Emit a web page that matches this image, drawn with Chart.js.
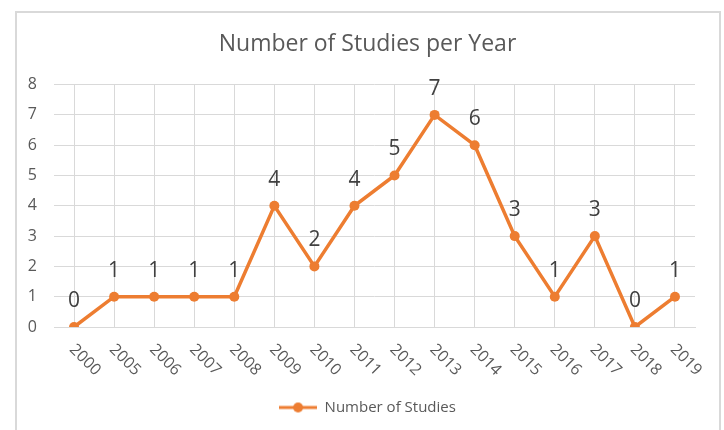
<!DOCTYPE html>
<html><head><meta charset="utf-8">
<script src="https://cdn.jsdelivr.net/npm/chart.js@4/dist/chart.umd.min.js"></script>
<style>
html,body{margin:0;padding:0;background:#fff;overflow:hidden}
#frame{position:absolute;left:15px;top:11px;width:706px;height:440px;border:2px solid #d9d9d9;box-sizing:border-box}
#wrap{position:absolute;left:0;top:0;width:724px;height:430px}
</style></head><body>
<div id="frame"></div>
<div id="wrap"><canvas id="c" width="724" height="430"></canvas></div>
<script>
const years = ['2000','2005','2006','2007','2008','2009','2010','2011','2012','2013','2014','2015','2016','2017','2018','2019'];
const studies = [0,1,1,1,1,4,2,4,5,7,6,3,1,3,0,1];
const yTicks = [0,1,2,3,4,5,6,7,8];
const seriesName = 'Number of Studies';
const chartTitle = 'Number of Studies per Year';

const ORANGE = '#ED7D31';
const GRID = '#d9d9d9';
const TXT = '#595959';
const FONT = '"Open Sans", "DejaVu Sans", sans-serif';

// legend marker: line with a dot
const marker = document.createElement('canvas');
marker.width = 38; marker.height = 12;
(function(){
  const m = marker.getContext('2d');
  m.strokeStyle = ORANGE; m.lineWidth = 3;
  m.beginPath(); m.moveTo(0,6); m.lineTo(38,6); m.stroke();
  m.fillStyle = ORANGE; m.beginPath(); m.arc(19,6,5,0,Math.PI*2); m.fill();
})();

const labelPlugin = {
  id: 'labels',
  afterDatasetsDraw(chart){
    const ctx = chart.ctx;
    const xs = chart.scales.x, ys = chart.scales.y;
    ctx.save();
    ctx.fillStyle = TXT;
    // y tick labels
    ctx.font = '16px ' + FONT;
    ctx.textAlign = 'right'; ctx.textBaseline = 'middle';
    yTicks.forEach(v=>{
      ctx.fillText(String(v), chart.chartArea.left - 17, ys.getPixelForValue(v));
    });
    // x tick labels, rotated clockwise
    ctx.textAlign = 'left'; ctx.textBaseline = 'middle';
    years.forEach((t,i)=>{
      const px = xs.getPixelForTick(i);
      ctx.save();
      ctx.translate(px - 2, xs.top + 20);
      ctx.rotate(Math.PI/4);
      ctx.fillText(t, 0, 0);
      ctx.restore();
    });
    // data labels
    const meta = chart.getDatasetMeta(0);
    ctx.font = '21px ' + FONT;
    ctx.fillStyle = '#404040';
    ctx.textAlign = 'center';
    meta.data.forEach((pt,i)=>{
      ctx.fillText(String(studies[i]), pt.x, pt.y - 26);
    });
    ctx.restore();
  }
};

new Chart(document.getElementById('c'), {
  type: 'line',
  data: {
    labels: years,
    datasets: [{
      label: seriesName,
      data: studies,
      borderColor: ORANGE,
      backgroundColor: ORANGE,
      borderWidth: 3.5,
      pointRadius: 5,
      pointStyle: 'circle',
      pointBackgroundColor: ORANGE,
      pointBorderWidth: 0,
      tension: 0
    }]
  },
  options: {
    responsive: false,
    animation: false,
    layout: { padding: { left: 40, right: 29, top: 13, bottom: 5 } },
    plugins: {
      title: {
        display: true, text: chartTitle, color: TXT,
        font: { family: FONT, size: 23, weight: 'normal' },
        padding: { top: 18, bottom: 26 }
      },
      legend: {
        position: 'bottom',
        labels: {
          usePointStyle: true,
          pointStyle: marker,
          pointStyleWidth: 38,
          color: TXT,
          font: { family: FONT, size: 15 },
          padding: 10
        }
      },
      tooltip: { enabled: false }
    },
    scales: {
      x: {
        offset: true,
        grid: { color: GRID, drawTicks: false, offset: false },
        border: { color: GRID },
        ticks: { display: false },
        afterFit(s){ s.height = 63; }
      },
      y: {
        min: 0, max: 8,
        grid: { color: GRID, drawTicks: false },
        border: { display: false },
        ticks: { stepSize: 1, display: false },
        afterFit(s){ s.width = 14; }
      }
    }
  },
  plugins: [labelPlugin]
});
</script>
</body></html>
